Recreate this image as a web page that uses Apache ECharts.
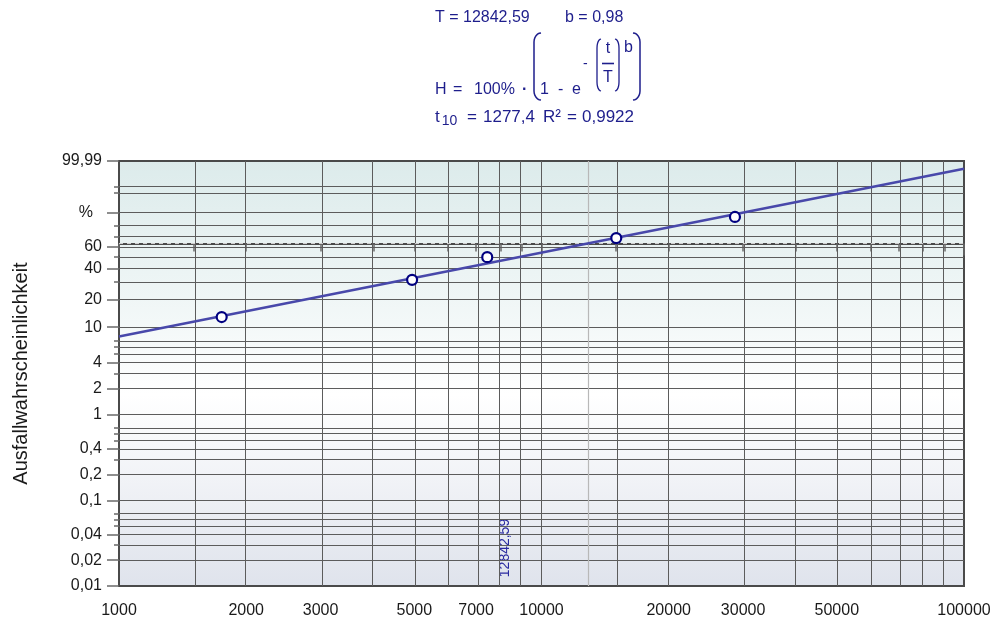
<!DOCTYPE html>
<html>
<head>
<meta charset="utf-8">
<script src="https://cdn.jsdelivr.net/npm/echarts@6.0.0/dist/echarts.min.js"></script>
<style>html,body{margin:0;padding:0;background:#fff}#chart{width:992px;height:625px}</style>
</head>
<body>
<div id="chart"></div>
<script>
// ---- data ----
const failureTimes = [1750, 4940, 7440, 15030, 28700];
const failurePct   = [12.94, 31.38, 50.0, 68.62, 87.06];
const fitTimes = [1000, 100000];
const fitPct   = [7.87, 99.943];
const charLifeT = 12842.59;
const charLifeText = '12842,59';
const charLifePct = 63.212;
const charLineTimes = [1000, 100000];

// axis ticks / labels
const yLabelPct  = [99.99, 90, 60, 40, 20, 10, 4, 2, 1, 0.4, 0.2, 0.1, 0.04, 0.02, 0.01];
const yLabelText = ['99,99', '%', '60', '40', '20', '10', '4', '2', '1', '0,4', '0,2', '0,1', '0,04', '0,02', '0,01'];
const yMinorPct  = [99, 98, 80, 70, 50, 30, 7, 6, 5, 3, 0.7, 0.6, 0.5, 0.3, 0.07, 0.06, 0.05, 0.03];
const xLabelVals = [1000, 2000, 3000, 5000, 7000, 10000, 20000, 30000, 50000, 100000];
const xLongTicks = [1000, 10000, 100000];
const xShortTicks = [1500, 2000, 3000, 4000, 5000, 6000, 7000, 8000, 9000, 15000, 20000, 30000, 40000, 50000, 60000, 70000, 80000, 90000];
const xGridVals = [1500, 2000, 3000, 4000, 5000, 6000, 7000, 8000, 9000, 10000, 15000, 20000, 30000, 40000, 50000, 60000, 70000, 80000, 90000];

// ---- transforms (Weibull probability paper) ----
const wb = p => Math.log(-Math.log(1 - p / 100));
const lg = t => Math.log10(t);

const yGridPct = yLabelPct.concat(yMinorPct).filter(p => p !== 99.99 && p !== 0.01);

const FONT = 'Liberation Sans, Arial, sans-serif';
const BLUE = '#1e1e8c';
const gridColor = '#5c5c5c';

const chart = echarts.init(document.getElementById('chart'), null, {renderer: 'canvas'});

function yLabelFmt(v) {
  for (let i = 0; i < yLabelPct.length; i++) {
    if (Math.abs(wb(yLabelPct[i]) - v) < 1e-6) {
      return yLabelText[i] === '%' ? '{p|%}' : yLabelText[i];
    }
  }
  return '';
}
function xLabelFmt(v) {
  for (let i = 0; i < xLabelVals.length; i++) {
    if (Math.abs(lg(xLabelVals[i]) - v) < 1e-6) return String(xLabelVals[i]);
  }
  return '';
}

const markData = []
  .concat(yGridPct.map(p => ({yAxis: wb(p)})))
  .concat(xGridVals.map(t => ({xAxis: lg(t)})))
  .concat([
    {xAxis: lg(charLifeT), lineStyle: {color: '#b8b8b8', width: 1.2, type: 'solid'}}
  ]);

const hdr = (text, x, y, extra) => ({
  type: 'text', x: x, y: y,
  style: Object.assign({text: text, fill: BLUE, font: '16px ' + FONT, textVerticalAlign: 'middle'}, extra || {})
});
const F17 = {font: '17px ' + FONT};

// bracket as polyline: side = -1 for '(' , +1 for ')'
function bracket(xEdge, y1, y2, side, bulge, lw) {
  const pts = [];
  const r = Math.min(9, (y2 - y1) / 4);
  const n = 6;
  for (let i = 0; i <= n; i++) {
    const a = (Math.PI / 2) * (i / n);
    pts.push([xEdge + side * bulge * Math.sin(a) - side * bulge, y1 + r * (1 - Math.cos(a))]);
  }
  for (let i = n; i >= 0; i--) {
    const a = (Math.PI / 2) * (i / n);
    pts.push([xEdge + side * bulge * Math.sin(a) - side * bulge, y2 - r * (1 - Math.cos(a))]);
  }
  return {type: 'polyline', shape: {points: pts}, style: {stroke: BLUE, lineWidth: lw, fill: null}};
}

const option = {
  animation: false,
  backgroundColor: '#ffffff',
  grid: {
    left: 119, top: 161, width: 845, height: 425,
    containLabel: false, outerBoundsMode: 'none',
    show: true,
    borderColor: '#4a4a4a', borderWidth: 2,
    backgroundColor: new echarts.graphic.LinearGradient(0, 0, 0, 1, [
      {offset: 0, color: '#dcebeb'},
      {offset: 0.38, color: '#f3f8f8'},
      {offset: 0.55, color: '#ffffff'},
      {offset: 1, color: '#dfe3ec'}
    ])
  },
  xAxis: [
    {
      type: 'value', min: 3, max: 5, position: 'bottom',
      axisLine: {show: true, lineStyle: {color: '#4a4a4a', width: 2}},
      axisTick: {show: true, customValues: xLongTicks.map(lg), length: 12, lineStyle: {color: '#6a6a6a', width: 1.5}},
      axisLabel: {show: true, customValues: xLabelVals.map(lg), formatter: xLabelFmt, fontSize: 16, fontFamily: FONT, color: '#1a1a1a', margin: 17},
      splitLine: {show: false}
    },
    {
      type: 'value', min: 3, max: 5, position: 'bottom',
      axisLine: {show: false},
      axisTick: {show: true, customValues: xShortTicks.map(lg), length: 8, lineStyle: {color: '#6a6a6a', width: 1.5}},
      axisLabel: {show: false},
      splitLine: {show: false}
    }
  ],
  yAxis: [
    {
      type: 'value', min: wb(0.01), max: wb(99.99), position: 'left',
      name: 'Ausfallwahrscheinlichkeit', nameLocation: 'middle', nameGap: 88, nameMoveOverlap: false,
      nameTextStyle: {fontSize: 20, fontFamily: FONT, color: '#1a1a1a'},
      axisLine: {show: true, lineStyle: {color: '#4a4a4a', width: 2}},
      axisTick: {show: true, customValues: yLabelPct.map(wb), length: 12, lineStyle: {color: '#6a6a6a', width: 1.5}},
      axisLabel: {
        show: true, customValues: yLabelPct.map(wb), formatter: yLabelFmt,
        fontSize: 16, fontFamily: FONT, color: '#1a1a1a', margin: 17,
        rich: {p: {fontSize: 16, fontFamily: FONT, color: '#1a1a1a', padding: [0, 9, 0, 0]}}
      },
      splitLine: {show: false}
    },
    {
      type: 'value', min: wb(0.01), max: wb(99.99), position: 'left',
      axisLine: {show: false},
      axisTick: {show: true, customValues: yMinorPct.map(wb), length: 5, lineStyle: {color: '#6a6a6a', width: 1.5}},
      axisLabel: {show: false},
      splitLine: {show: false}
    }
  ],
  series: [
    {
      name: 'grid', type: 'line', z: 1, silent: true,
      data: charLineTimes.map(t => [lg(t), wb(charLifePct)]),
      symbol: 'none',
      lineStyle: {color: '#d6d6d6', width: 1, type: [4, 4]},
      markLine: {
        z: 1, silent: true, animation: false,
        symbol: ['none', 'none'],
        label: {show: false},
        emphasis: {disabled: true},
        lineStyle: {color: gridColor, width: 1, type: 'solid'},
        data: markData
      }
    },
    {
      name: 'fit', type: 'line', z: 3,
      data: fitTimes.map((t, i) => [lg(t), wb(fitPct[i])]),
      symbol: 'none', silent: true,
      lineStyle: {color: '#4848aa', width: 2.5}
    },
    {
      name: 'points', type: 'scatter', z: 4,
      data: failureTimes.map((t, i) => [lg(t), wb(failurePct[i])]),
      symbol: 'circle', symbolSize: 10,
      itemStyle: {color: '#ffffff', borderColor: '#000080', borderWidth: 2.2, opacity: 1}
    }
  ],
  graphic: [
    hdr('T = 12842,59', 435, 18),
    hdr('b = 0,98', 565, 18),
    hdr('H', 435, 90),
    hdr('=', 453, 90),
    hdr('100%', 474, 90),
    hdr('·', 522, 90, {font: 'bold 16px ' + FONT}),
    hdr('1', 540, 90),
    hdr('-', 558, 90),
    hdr('e', 572, 90),
    hdr('-', 583, 64, {font: '14px ' + FONT}),
    hdr('t', 608, 49, {textAlign: 'center'}),
    hdr('T', 608, 78, {textAlign: 'center'}),
    hdr('b', 624, 48),
    {type: 'line', shape: {x1: 602, y1: 63.5, x2: 614, y2: 63.5}, style: {stroke: BLUE, lineWidth: 1.6}},
    bracket(534, 33, 100, -1, 7, 1.5),
    bracket(640, 33, 100, 1, 7, 1.5),
    bracket(597, 39, 91, -1, 4, 1.3),
    bracket(619, 39, 91, 1, 4, 1.3),
    {type: 'text', x: 435, y: 117, style: {
      text: '{a|t}{s|10}', textVerticalAlign: 'middle', fill: BLUE,
      rich: {a: {fontSize: 17, fontFamily: FONT, fill: BLUE, color: BLUE}, s: {fontSize: 14, fontFamily: FONT, fill: BLUE, color: BLUE, padding: [8, 0, 0, 2]}}
    }},
    hdr('=', 467, 117, F17),
    hdr('1277,4', 483, 117, F17),
    hdr('R²', 543, 117, F17),
    hdr('=', 567, 117, F17),
    hdr('0,9922', 582, 117, F17),
    {type: 'text', x: 505, y: 548, rotation: Math.PI / 2,
      style: {text: charLifeText, fill: '#2a2aa0', font: '14px ' + FONT, textAlign: 'center', textVerticalAlign: 'middle'}}
  ]
};
chart.setOption(option);
</script>
</body>
</html>
